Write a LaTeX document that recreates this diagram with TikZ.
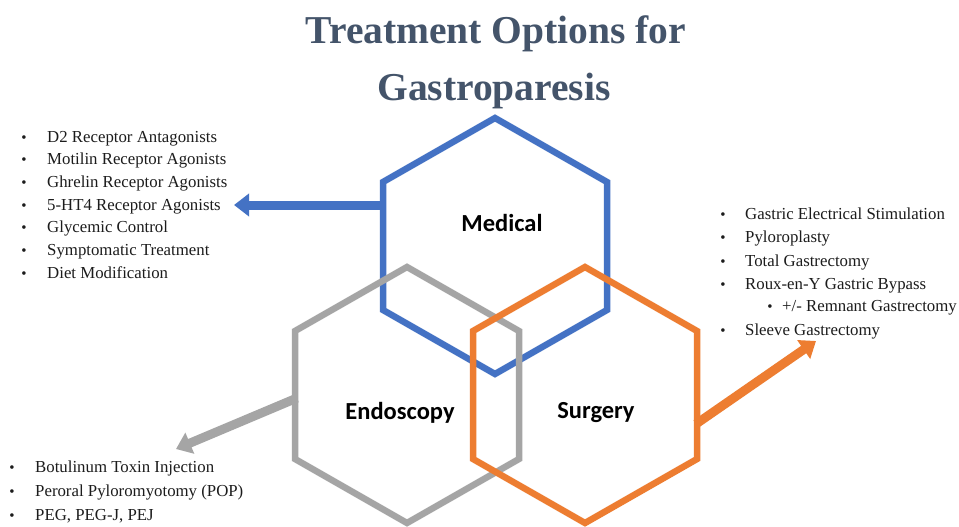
\documentclass[tikz,border=0pt]{standalone}
\usepackage{fontspec}
\setmainfont{Liberation Serif}
\newfontfamily\labelfont{Carlito}
\usetikzlibrary{arrows.meta}
\definecolor{medblue}{HTML}{4472C4}
\definecolor{endgray}{HTML}{A5A5A5}
\definecolor{surgorange}{HTML}{ED7D31}
\definecolor{titlecol}{HTML}{44546A}
\definecolor{txt}{HTML}{1C1C1C}
\newcommand{\hexat}[2]{(#1,#2-128) -- (#1+112,#2-64) -- (#1+112,#2+64) -- (#1,#2+128) -- (#1-112,#2+64) -- (#1-112,#2-64) -- cycle}
\begin{document}
\begin{tikzpicture}[x=1pt,y=-1pt,
  hex/.style={line width=6.5pt, line join=miter},
  hexlabel/.style={font=\labelfont\bfseries\fontsize{24.5}{28}\selectfont, text=black, inner sep=0pt},
  fat/.style={line width=9pt, -{Triangle[width=22pt,length=15pt]}},
  listtext/.style={anchor=base west, font=\fontsize{16.8}{20}\selectfont, text=txt, inner sep=0pt},
  bul/.style={anchor=base, font=\fontsize{15}{18}\selectfont, text=txt, inner sep=0pt},
  titletext/.style={anchor=base, font=\bfseries\fontsize{39.5}{46}\selectfont, text=titlecol, inner sep=0pt}]
\useasboundingbox[fill=white] (0,0) rectangle (959,527);

% title
\node[titletext] (t1) at (496,44) {Treatment Options for};
\node[titletext] (t2) at (494,100) {Gastroparesis};

% hexagons
\draw[hex, medblue] \hexat{495}{246};
\draw[hex, endgray] \hexat{407}{395};
\draw[hex, surgorange] \hexat{585}{395};

% labels
\node[hexlabel] (med) at (502,223) {Medical};
\node[hexlabel] (endo) at (400,413) {Endoscopy};
\node[hexlabel] (surg) at (596,413) {Surgery};

% arrow anchors
\coordinate (medL) at (383,205);
\coordinate (medT) at (234,205);
\coordinate (endL) at (297,398);
\coordinate (endT) at (176,449);
\coordinate (surR) at (696,424);
\coordinate (surT) at (816,341);
\draw[fat, medblue] (medL) -- (medT);
\draw[fat, endgray] (endL) -- (endT);
\draw[fat, surgorange] (surR) -- (surT);

% medical list
\foreach \t [count=\i] in {D2 Receptor Antagonists, Motilin Receptor Agonists, Ghrelin Receptor Agonists, 5-HT4 Receptor Agonists, Glycemic Control, Symptomatic Treatment, Diet Modification}{
  \node[bul] (mb\i) at (24,{142+22.7*(\i-1)}) {\textbullet};
  \node[listtext] (m\i) at (47,{142+22.7*(\i-1)}) {\t};
}

% surgery list
\node[bul] (sb1) at (723,219) {\textbullet};
\node[listtext] (s1) at (745,219) {Gastric Electrical Stimulation};
\node[bul] (sb2) at (723,242) {\textbullet};
\node[listtext] (s2) at (745,242) {Pyloroplasty};
\node[bul] (sb3) at (723,266) {\textbullet};
\node[listtext] (s3) at (745,266) {Total Gastrectomy};
\node[bul] (sb4) at (723,289) {\textbullet};
\node[listtext] (s4) at (745,289) {Roux-en-Y Gastric Bypass};
\node[bul] (sb5) at (770,311) {\textbullet};
\node[listtext] (s5) at (782,311) {+/- Remnant Gastrectomy};
\node[bul] (sb6) at (723,335) {\textbullet};
\node[listtext] (s6) at (745,335) {Sleeve Gastrectomy};

% endoscopy list
\node[bul] (eb1) at (12,472) {\textbullet};
\node[listtext] (e1) at (35,472) {Botulinum Toxin Injection};
\node[bul] (eb2) at (12,496) {\textbullet};
\node[listtext] (e2) at (35,496) {Peroral Pyloromyotomy (POP)};
\node[bul] (eb3) at (12,520) {\textbullet};
\node[listtext] (e3) at (35,520) {PEG, PEG-J, PEJ};
\end{tikzpicture}
\end{document}
